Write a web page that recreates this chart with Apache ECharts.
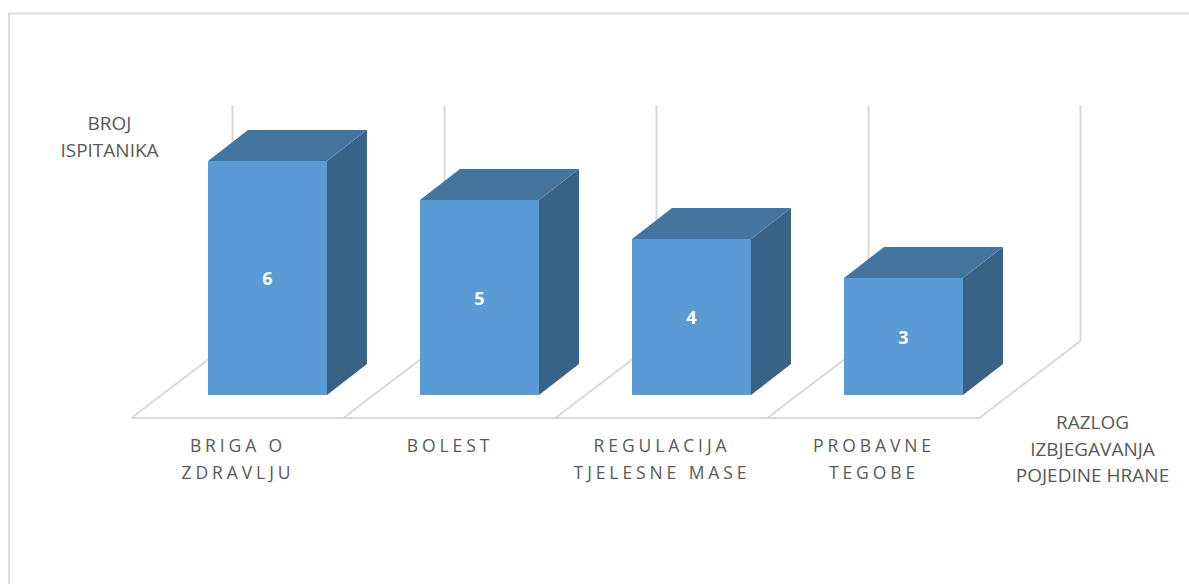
<!DOCTYPE html>
<html>
<head>
<meta charset="utf-8">
<style>
html,body{margin:0;padding:0;background:#fff;}
#c{width:1189px;height:584px;}
svg text[style*="17.5px"]{letter-spacing:3.9px;}
</style>
<script src="https://cdn.jsdelivr.net/npm/echarts@6/dist/echarts.min.js"></script>
</head>
<body>
<div id="c"></div>
<script>
const categories = ['BRIGA O\nZDRAVLJU', 'BOLEST', 'REGULACIJA\nTJELESNE MASE', 'PROBAVNE\nTEGOBE'];
const values = [6, 5, 4, 3];
const yAxisTitle = 'BROJ\nISPITANIKA';
const xAxisTitle = 'RAZLOG\nIZBJEGAVANJA\nPOJEDINE HRANE';

const FONT = '"Open Sans"';
const GRID_COLOR = '#d9d9d9';
const TEXT_COLOR = '#595959';
const FRONT = '#5b9bd5', TOP = '#44759f', SIDE = '#386387';
const BAR_SHIFT = [29.5, -22.5];
const DEPTH = [40, -31];
const BACK = [100.5, -76.5];
const WALL_EXTRA = -1.5;
const BAR_RATIO = 119 / 212;
const AXIS_MAX = 6;

function wallLines(params, api) {
  const i = api.value(0);
  const band = api.size([1, 0])[0];
  const style = { stroke: GRID_COLOR, lineWidth: 2, fill: 'none' };
  const edges = [api.coord([i, 0])[0] - band / 2];
  if (params.dataIndex === params.dataInsideLength - 1) edges.push(edges[0] + band);
  const yBase = api.coord([i, 0])[1];
  const yTop = api.coord([i, AXIS_MAX])[1];
  const children = [];
  edges.forEach(function (x) {
    children.push({
      type: 'polyline',
      shape: { points: [[x, yBase], [x + BACK[0], yBase + BACK[1]], [x + BACK[0], yTop + BACK[1] + WALL_EXTRA]] },
      style: style, silent: true
    });
  });
  return { type: 'group', children: children };
}

function bar3d(params, api) {
  const i = api.value(0);
  const base = api.coord([i, 0]);
  const top = api.coord([i, api.value(1)]);
  const w = api.size([1, 0])[0] * BAR_RATIO;
  const x0 = base[0] + BAR_SHIFT[0] - w / 2, x1 = x0 + w;
  const yB = base[1] + BAR_SHIFT[1], yT = top[1] + BAR_SHIFT[1];
  const dx = DEPTH[0], dy = DEPTH[1];
  return {
    type: 'group',
    children: [
      { type: 'polygon', shape: { points: [[x1, yT], [x1 + dx, yT + dy], [x1 + dx, yB + dy], [x1, yB]] }, style: { fill: SIDE } },
      { type: 'polygon', shape: { points: [[x0, yT], [x0 + dx, yT + dy], [x1 + dx, yT + dy], [x1, yT]] }, style: { fill: TOP } },
      { type: 'rect', shape: { x: x0, y: yT, width: w, height: yB - yT }, style: { fill: FRONT } },
      { type: 'text', x: (x0 + x1) / 2, y: (yT + yB) / 2,
        style: { text: String(api.value(1)), fill: '#fff', font: 'bold 18px ' + FONT, align: 'center', verticalAlign: 'middle' } }
    ]
  };
}

const chart = echarts.init(document.getElementById('c'), null, { renderer: 'svg' });
const seriesData = values.map(function (v, i) { return [i, v]; });
chart.setOption({
  animation: false,
  backgroundColor: '#fff',
  grid: { left: 132, right: 209, top: 183.5, bottom: 166.5, containLabel: false },
  xAxis: {
    type: 'category',
    data: categories,
    axisLine: { show: true, lineStyle: { color: GRID_COLOR, width: 2 } },
    axisTick: { show: false },
    axisLabel: { interval: 0, margin: 13.5, color: TEXT_COLOR, fontFamily: FONT, fontSize: 17.5, lineHeight: 27 }
  },
  yAxis: { type: 'value', min: 0, max: AXIS_MAX, show: false },
  series: [
    { type: 'custom', z: 1, clip: false, silent: true, renderItem: wallLines, data: seriesData, encode: { x: 0, y: 1 } },
    { type: 'custom', z: 2, clip: false, renderItem: bar3d, data: seriesData, encode: { x: 0, y: 1 } }
  ],
  graphic: [
    { type: 'polyline', silent: true, shape: { points: [[9, 584], [9, 13.5], [1189, 13.5]] }, style: { stroke: '#dcdcdc', lineWidth: 2, fill: 'none' } },
    { type: 'text', x: 109.5, y: 136.5, silent: true, style: { text: yAxisTitle, fill: TEXT_COLOR, font: '19px ' + FONT, align: 'center', verticalAlign: 'middle', lineHeight: 27 } },
    { type: 'text', x: 1092.5, y: 448.5, silent: true, style: { text: xAxisTitle, fill: TEXT_COLOR, font: '19px ' + FONT, align: 'center', verticalAlign: 'middle', lineHeight: 26.5 } }
  ]
});
</script>
</body>
</html>
